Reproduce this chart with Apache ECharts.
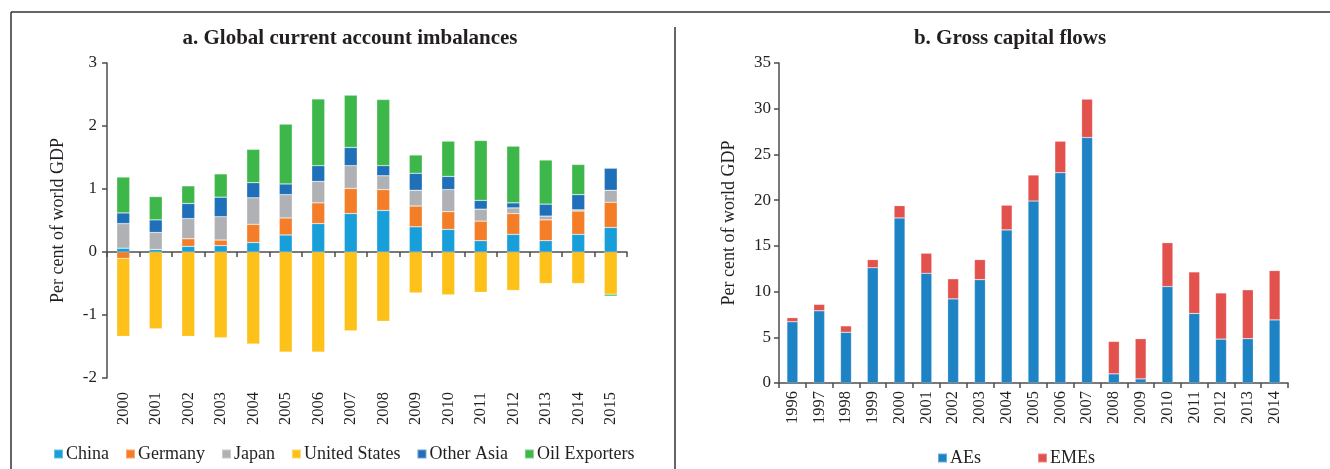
<!DOCTYPE html>
<html>
<head>
<meta charset="utf-8">
<script src="https://cdn.jsdelivr.net/npm/echarts@6/dist/echarts.min.js"></script>
<style>
  html, body { margin: 0; padding: 0; background: #fff; }
  #main { width: 1330px; height: 469px; }
</style>
</head>
<body>
<div id="main"></div>
<script>
// 数据 a. Global current account imbalances (per cent of world GDP)
var yearsA = ['2000','2001','2002','2003','2004','2005','2006','2007','2008','2009','2010','2011','2012','2013','2014','2015'];
var china        = [0.06, 0.04, 0.09, 0.10, 0.15, 0.27, 0.45, 0.61, 0.66, 0.40, 0.36, 0.18, 0.28, 0.18, 0.28, 0.39];
var germany      = [-0.10, 0.00, 0.12, 0.09, 0.29, 0.27, 0.33, 0.40, 0.33, 0.33, 0.28, 0.31, 0.33, 0.33, 0.37, 0.40];
var japan        = [0.39, 0.27, 0.32, 0.37, 0.42, 0.37, 0.34, 0.36, 0.22, 0.25, 0.35, 0.19, 0.09, 0.06, 0.02, 0.19];
var unitedStates = [-1.24, -1.22, -1.34, -1.36, -1.46, -1.59, -1.59, -1.25, -1.10, -0.65, -0.68, -0.64, -0.61, -0.50, -0.50, -0.67];
var otherAsia    = [0.17, 0.20, 0.24, 0.31, 0.24, 0.17, 0.25, 0.29, 0.16, 0.27, 0.21, 0.14, 0.08, 0.19, 0.24, 0.35];
var oilExporters = [0.57, 0.37, 0.28, 0.37, 0.53, 0.95, 1.06, 0.83, 1.05, 0.29, 0.56, 0.95, 0.90, 0.70, 0.48, -0.03];
var ticksA = [-2, -1, 0, 1, 2, 3];

// 数据 b. Gross capital flows (per cent of world GDP)
var yearsB = ['1996','1997','1998','1999','2000','2001','2002','2003','2004','2005','2006','2007','2008','2009','2010','2011','2012','2013','2014'];
var aes  = [6.7, 7.9, 5.55, 12.6, 18.05, 12.0, 9.2, 11.3, 16.75, 19.9, 23.0, 26.85, 1.0, 0.45, 10.55, 7.6, 4.8, 4.85, 6.9];
var emes = [0.45, 0.7, 0.7, 0.9, 1.35, 2.2, 2.2, 2.2, 2.7, 2.85, 3.45, 4.2, 3.55, 4.4, 4.8, 4.55, 5.05, 5.35, 5.4];
var ticksB = [0, 5, 10, 15, 20, 25, 30, 35];

var serif = '"Liberation Serif", "DejaVu Serif", serif';
var ink = '#231f20';
var axisGrey = '#4d4d4d';

var myChart = echarts.init(document.getElementById('main'));

// 堆叠柱子的公共样式
function bar(name, data, color, stack, xi, yi, width) {
    return {
        name: name,
        type: 'bar',
        stack: stack,
        xAxisIndex: xi,
        yAxisIndex: yi,
        barWidth: width,
        data: data,
        itemStyle: { color: color, borderColor: 'rgba(255,255,255,0.35)', borderWidth: 0.6 },
        emphasis: { disabled: true }
    };
}

var option = {
    animation: false,
    textStyle: { fontFamily: serif, color: ink },
    title: [
        {
            text: 'a. Global current account imbalances',
            left: 345, top: 23, textAlign: 'center',
            textStyle: { fontFamily: serif, fontSize: 21, fontWeight: 'bold', color: ink }
        },
        {
            text: 'b. Gross capital flows',
            left: 1005, top: 23, textAlign: 'center',
            textStyle: { fontFamily: serif, fontSize: 21, fontWeight: 'bold', color: ink }
        }
    ],
    legend: [
        {
            data: ['China', 'Germany', 'Japan', 'United States', 'Other Asia', 'Oil Exporters'],
            left: 48, top: 440,
            icon: 'rect', itemWidth: 9, itemHeight: 9, itemGap: 16,
            textStyle: { fontFamily: serif, fontSize: 18, color: ink, padding: [0, 0, 0, -2] }
        },
        {
            data: ['AEs', 'EMEs'],
            left: 932, top: 444,
            icon: 'rect', itemWidth: 9, itemHeight: 9, itemGap: 56,
            textStyle: { fontFamily: serif, fontSize: 18, color: ink, padding: [0, 0, 0, -2] }
        }
    ],
    grid: [
        { left: 107, top: 63, width: 520, height: 315, containLabel: false },
        { left: 779, top: 63, width: 509, height: 320, containLabel: false }
    ],
    xAxis: [
        // 左图零线与刻度
        {
            type: 'category', gridIndex: 0, data: yearsA,
            axisLine: { onZero: true, lineStyle: { color: axisGrey, width: 1.5 } },
            axisTick: { show: true, interval: 0, length: 5, lineStyle: { color: axisGrey, width: 1.5 } },
            axisLabel: { show: false }
        },
        // 左图底部年份
        {
            type: 'category', gridIndex: 0, data: yearsA, position: 'bottom',
            axisLine: { show: false, onZero: false },
            axisTick: { show: false },
            axisLabel: { rotate: 90, interval: 0, margin: 14, fontFamily: serif, fontSize: 16.5, color: ink }
        },
        // 右图
        {
            type: 'category', gridIndex: 1, data: yearsB,
            axisLine: { lineStyle: { color: axisGrey, width: 1.5 } },
            axisTick: { show: true, interval: 0, length: 5, lineStyle: { color: axisGrey, width: 1.5 } },
            axisLabel: { rotate: 90, interval: 0, margin: 8, fontFamily: serif, fontSize: 16.5, color: ink }
        }
    ],
    yAxis: [
        {
            type: 'value', gridIndex: 0,
            min: ticksA[0], max: ticksA[ticksA.length - 1], interval: 1,
            name: 'Per cent of world GDP', nameLocation: 'middle', nameGap: 40, nameRotate: 90,
            nameTextStyle: { fontFamily: serif, fontSize: 18, color: ink },
            axisLine: { show: true, lineStyle: { color: axisGrey, width: 1.5 } },
            axisTick: { show: true, length: 5, lineStyle: { color: axisGrey, width: 1.5 } },
            axisLabel: { margin: 10, fontFamily: serif, fontSize: 17, color: ink },
            splitLine: { show: false }
        },
        {
            type: 'value', gridIndex: 1,
            min: ticksB[0], max: ticksB[ticksB.length - 1], interval: 5,
            name: 'Per cent of world GDP', nameLocation: 'middle', nameGap: 41, nameRotate: 90,
            nameTextStyle: { fontFamily: serif, fontSize: 18, color: ink },
            axisLine: { show: true, lineStyle: { color: axisGrey, width: 1.5 } },
            axisTick: { show: true, length: 5, lineStyle: { color: axisGrey, width: 1.5 } },
            axisLabel: { margin: 8, fontFamily: serif, fontSize: 17, color: ink },
            splitLine: { show: false }
        }
    ],
    series: [
        bar('China', china, '#189fda', 'ca', 0, 0, 13),
        bar('Germany', germany, '#f47d28', 'ca', 0, 0, 13),
        bar('Japan', japan, '#b0b1b4', 'ca', 0, 0, 13),
        bar('United States', unitedStates, '#fdc11a', 'ca', 0, 0, 13),
        bar('Other Asia', otherAsia, '#1f70b8', 'ca', 0, 0, 13),
        bar('Oil Exporters', oilExporters, '#3eb74a', 'ca', 0, 0, 13),
        bar('AEs', aes, '#1e83c5', 'gcf', 2, 1, 11),
        bar('EMEs', emes, '#e2514c', 'gcf', 2, 1, 11)
    ],
    // 外框与分隔线
    graphic: [
        { type: 'line', shape: { x1: 11, y1: 12, x2: 1330, y2: 12 }, style: { stroke: '#333', lineWidth: 1.5 } },
        { type: 'line', shape: { x1: 11, y1: 12, x2: 11, y2: 469 }, style: { stroke: '#333', lineWidth: 1.5 } },
        { type: 'line', shape: { x1: 675, y1: 27, x2: 675, y2: 469 }, style: { stroke: '#333', lineWidth: 1.5 } }
    ]
};

myChart.setOption(option);
</script>
</body>
</html>
